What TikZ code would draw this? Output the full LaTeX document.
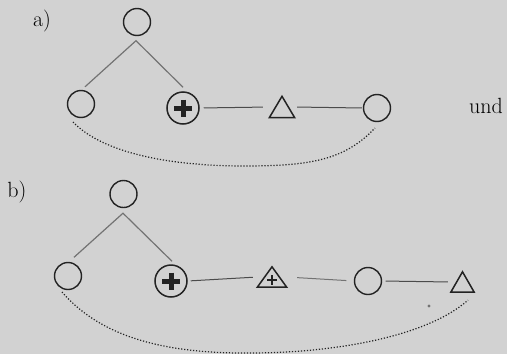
\documentclass[tikz,border=0pt]{standalone}
\usetikzlibrary{calc}
\definecolor{bg}{RGB}{210,210,210}
\definecolor{ink}{RGB}{35,35,35}
\definecolor{treeline}{RGB}{115,115,115}
\definecolor{hline}{RGB}{75,75,75}
\begin{document}
\begin{tikzpicture}[x=1pt,y=-1pt,
  lab/.style={inner sep=0pt,font=\fontsize{22}{24}\selectfont},
  circ/.style={circle,draw=ink,line width=1.4pt,minimum size=27pt,inner sep=0pt},
  pcirc/.style={circle,draw=ink,line width=1.5pt,minimum size=32pt,inner sep=0pt,
    path picture={\draw[ink,line width=5pt]
      ($(path picture bounding box.center)+(-9,0)$) -- ++(18,0)
      ($(path picture bounding box.center)+(0,-8.5)$) -- ++(0,17);}},
  trinode/.style={inner sep=0pt},
  triline/.style={draw=ink,line width=1.5pt,line join=miter},
  tree/.style={draw=treeline,line width=1.2pt},
  hl/.style={draw=hline,line width=1pt},
  dots/.style={draw=ink,line width=1.2pt,dash pattern=on 1.2pt off 1.8pt}]
\useasboundingbox (0,0) rectangle (507,354);
\fill[bg] (0,0) rectangle (507,354);
% ---------- a) ----------
\node[lab] (la) at (42,21) {a)};
\node[circ] (aT) at (137,22) {};
\node[circ] (aL) at (81,104) {};
\node[pcirc] (aP) at (183,108) {};
\node[trinode,minimum width=25pt,minimum height=21pt] (aTri) at (282,107) {};
\draw[triline] (aTri.south west) -- (aTri.north) -- (aTri.south east) -- cycle;
\node[circ] (aR) at (377,108) {};
\node[lab] (und) at (486,106) {und};
\coordinate (aA) at ($(aT.south)+(-1,4.5)$);
\coordinate (aLt) at ($(aL.north)+(4,-3)$);
\coordinate (aPt) at ($(aP.north)+(0,-4)$);
\draw[tree] (aLt) -- (aA) -- (aPt);
\draw[hl,shorten <=4pt,shorten >=6.5pt] (aP.east) -- (aTri.west);
\draw[hl,shorten <=2.5pt,shorten >=1pt] (aTri.east) -- (aR.west);
\coordinate (aS) at ($(aL)+(-8,18)$);
\coordinate (aE) at ($(aR)+(-2,20)$);
\draw[dots] (aS) .. controls (100,150) and (160,166) .. (245,166)
  .. controls (310,166) and (345,160) .. (aE);
% ---------- b) ----------
\node[lab] (lb) at (17,192) {b)};
\node[circ] (bT) at (123.5,194) {};
\node[circ] (bL) at (68,276) {};
\node[pcirc] (bP) at (171,281) {};
\node[trinode,minimum width=29pt,minimum height=20pt] (bTP) at (272,277) {};
\draw[triline] (bTP.south west) -- (bTP.north) -- (bTP.south east) -- cycle;
\draw[ink,line width=2.8pt] ($(bTP)+(-5,3)$) -- ++(10,0) ($(bTP)+(0,-2)$) -- ++(0,10);
\node[circ] (bC) at (368,281) {};
\node[trinode,minimum width=23pt,minimum height=20pt] (bTri) at (462.5,282) {};
\draw[triline] (bTri.south west) -- (bTri.north) -- (bTri.south east) -- cycle;
\coordinate (bA) at ($(bT.south)+(-0.5,5)$);
\coordinate (bLt) at ($(bL.north)+(6,-4.5)$);
\coordinate (bPt) at ($(bP.north)+(1,-3)$);
\draw[tree] (bLt) -- (bA) -- (bPt);
\draw[hl,shorten <=3pt,shorten >=4.5pt] (bP.east) -- (bTP.west);
\draw[hl,draw=treeline,shorten <=10.5pt,shorten >=7.5pt] (bTP.east) -- (bC.west);
\draw[hl,shorten <=3.5pt,shorten >=3pt] (bC.east) -- (bTri.west);
\fill[treeline] (429,306) circle (1.6);
\coordinate (bS) at ($(bL)+(-6,16)$);
\coordinate (bE) at ($(bTri.south)+(5.5,8)$);
\draw[dots] (bS) .. controls (95,330) and (150,354) .. (250,353)
  .. controls (330,353) and (425,338) .. (bE);
\end{tikzpicture}
\end{document}
